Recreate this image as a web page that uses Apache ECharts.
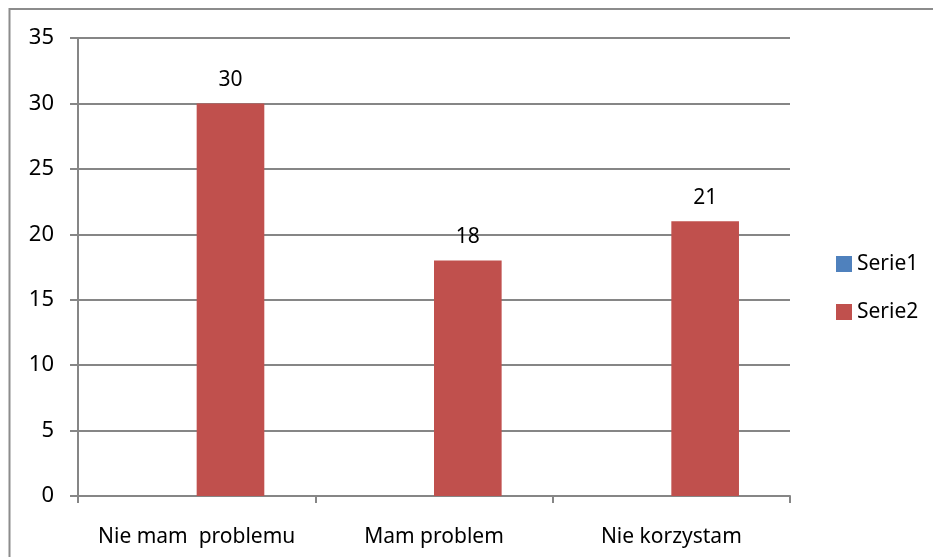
<!DOCTYPE html>
<html>
<head>
<meta charset="utf-8">
<script src="https://cdn.jsdelivr.net/npm/echarts@6/dist/echarts.min.js"></script>
<style>
  html, body { margin: 0; padding: 0; background: #fff; }
  #myChart { width: 933px; height: 557px; }
</style>
</head>
<body>
<div id="myChart"></div>
<script>
// dane wykresu
const categories = ['Nie mam  problemu', 'Mam problem', 'Nie korzystam']
const serie1 = [0, 0, 0]
const serie2 = [30, 18, 21]
const seriesNames = ['Serie1', 'Serie2']

const font = 'Noto Sans'
let myChart = echarts.init(document.getElementById('myChart'))
myChart.setOption({
  backgroundColor: '#ffffff',
  animation: false,
  textStyle: { fontFamily: font },
  color: ['#4F81BD', '#C0504D'],
  graphic: [
    {
      type: 'rect',
      shape: { x: 9.5, y: 9, width: 1000, height: 1000 },
      style: { fill: 'none', stroke: '#8c8c8c', lineWidth: 2 }
    }
  ],
  grid: { left: 78, right: 143, top: 38, bottom: 61 },
  legend: {
    data: seriesNames,
    orient: 'vertical',
    left: 831,
    top: 247,
    itemWidth: 16,
    itemHeight: 16,
    itemGap: 24,
    icon: 'rect',
    textStyle: { fontFamily: font, fontSize: 21, color: '#000', lineHeight: 24 }
  },
  xAxis: {
    type: 'category',
    data: categories,
    axisLine: { lineStyle: { color: '#868686', width: 2 } },
    axisTick: { show: true, interval: 0, length: 7, lineStyle: { color: '#868686', width: 2 } },
    axisLabel: { interval: 0, hideOverlap: false, fontFamily: font, fontSize: 21, color: '#000', margin: 31 }
  },
  yAxis: {
    type: 'value',
    min: 0,
    max: 35,
    interval: 5,
    axisLine: { show: true, lineStyle: { color: '#868686', width: 2 } },
    axisTick: { show: true, length: 8, lineStyle: { color: '#868686', width: 2 } },
    splitLine: { lineStyle: { color: '#868686', width: 2 } },
    axisLabel: { fontFamily: font, fontSize: 22, color: '#000', margin: 24 }
  },
  series: [
    {
      name: seriesNames[0],
      type: 'bar',
      data: serie1,
      barGap: '0%',
      barCategoryGap: '43%'
    },
    {
      name: seriesNames[1],
      type: 'bar',
      data: serie2,
      barGap: '0%',
      barCategoryGap: '43%',
      label: {
        show: true,
        position: 'top',
        distance: 13,
        fontFamily: font,
        fontSize: 21,
        color: '#000'
      }
    }
  ]
})
</script>
</body>
</html>
